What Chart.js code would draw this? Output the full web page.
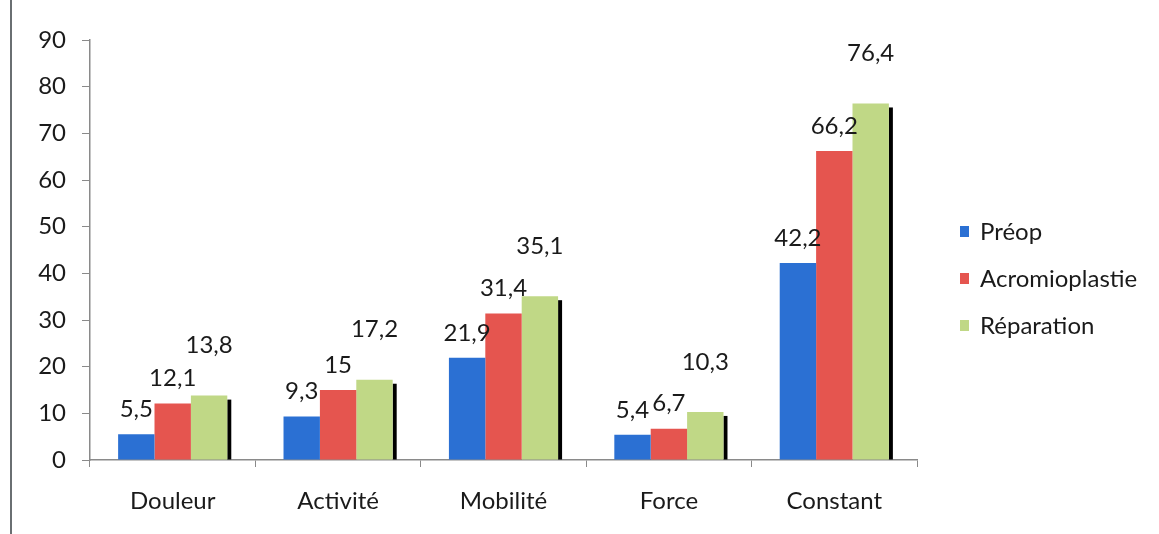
<!DOCTYPE html>
<html lang="fr">
<head>
  <meta charset="UTF-8" />
  <title>Scores</title>
  <style>
    body {
      background: #fff;
      margin: 0;
      overflow: hidden;
    }
    #wrap {
      position: relative;
      width: 1159px;
      height: 534px;
    }
    #bord {
      position: absolute;
      left: 10px;
      top: 0;
      width: 2px;
      height: 534px;
      background: #6a6f72;
    }
  </style>
  <script src="https://cdn.jsdelivr.net/npm/chart.js"></script>
</head>
<body>
  <div id="wrap">
    <div id="bord"></div>
    <canvas id="scoreChart" width="1159" height="534"></canvas>
  </div>

  <script>
    // categories et valeurs
    const categories = ['Douleur', 'Activité', 'Mobilité', 'Force', 'Constant'];
    const preop = [5.5, 9.3, 21.9, 5.4, 42.2];
    const acromioplastie = [12.1, 15, 31.4, 6.7, 66.2];
    const reparation = [13.8, 17.2, 35.1, 10.3, 76.4];
    const yTicks = [0, 10, 20, 30, 40, 50, 60, 70, 80, 90];

    const police = 'Lato, "Open Sans", sans-serif';

    // valeurs au-dessus des barres (décalage différent pour la 3e série)
    const etiquettes = {
      id: 'etiquettes',
      afterDatasetsDraw(chart) {
        const ctx = chart.ctx;
        ctx.save();
        ctx.font = '24px ' + police;
        ctx.fillStyle = '#1a1a1a';
        ctx.textAlign = 'center';
        ctx.textBaseline = 'middle';
        const decalages = [25, 25, 50];
        chart.data.datasets.forEach((ds, i) => {
          const meta = chart.getDatasetMeta(i);
          meta.data.forEach((bar, j) => {
            const txt = String(ds.data[j]).replace('.', ',');
            ctx.fillText(txt, bar.x, bar.y - decalages[i]);
          });
        });
        ctx.restore();
      }
    };

    // ombre noire à droite des barres vertes
    const ombre = {
      id: 'ombre',
      beforeDatasetsDraw(chart) {
        const ctx = chart.ctx;
        const meta = chart.getDatasetMeta(2);
        ctx.save();
        ctx.fillStyle = '#000';
        meta.data.forEach(bar => {
          const x = bar.x + bar.width / 2;
          ctx.fillRect(x, bar.y + 4, 4, bar.base - bar.y - 4);
        });
        ctx.restore();
      }
    };

    // légende à droite
    const legende = {
      id: 'legende',
      afterDraw(chart) {
        const ctx = chart.ctx;
        ctx.save();
        ctx.font = '24px ' + police;
        ctx.textBaseline = 'middle';
        chart.data.datasets.forEach((ds, i) => {
          const y = 232 + i * 47;
          ctx.fillStyle = ds.backgroundColor;
          ctx.fillRect(960, y - 6, 9, 11);
          ctx.fillStyle = '#1a1a1a';
          ctx.fillText(ds.label, 980, y);
        });
        ctx.restore();
      }
    };

    const ctx = document.getElementById('scoreChart').getContext('2d');
    new Chart(ctx, {
      type: 'bar',
      data: {
        labels: categories,
        datasets: [
          { label: 'Préop', data: preop, backgroundColor: '#2b70d3' },
          { label: 'Acromioplastie', data: acromioplastie, backgroundColor: '#e5554f' },
          { label: 'Réparation', data: reparation, backgroundColor: '#c0d886' }
        ]
      },
      options: {
        responsive: false,
        animation: false,
        datasets: {
          bar: { barPercentage: 1, categoryPercentage: 0.66 }
        },
        layout: { padding: { left: 20, right: 242, top: 40, bottom: 0 } },
        scales: {
          x: {
            afterFit: s => { s.height = 74; },
            grid: { drawOnChartArea: false, tickLength: 7, color: '#8a8a8a', offset: true },
            border: { color: '#8a8a8a', width: 1.5 },
            ticks: { color: '#1a1a1a', font: { family: police, size: 24 }, padding: 20 }
          },
          y: {
            min: 0,
            max: 90,
            afterBuildTicks: s => { s.ticks = yTicks.map(v => ({ value: v })); },
            afterFit: s => { s.width = 70; },
            grid: { drawOnChartArea: false, tickLength: 8, color: '#8a8a8a' },
            border: { color: '#8a8a8a', width: 1.5 },
            ticks: { color: '#1a1a1a', font: { family: police, size: 24 }, padding: 16 }
          }
        },
        plugins: {
          legend: { display: false },
          tooltip: { enabled: false }
        }
      },
      plugins: [ombre, etiquettes, legende]
    });
  </script>
</body>
</html>
